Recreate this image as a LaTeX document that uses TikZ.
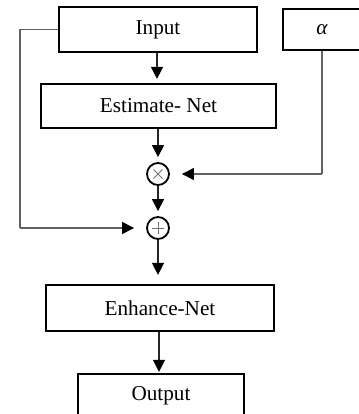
\documentclass[tikz,border=0pt]{standalone}
\usepackage{fontspec}
\setmainfont{Liberation Serif}
\usetikzlibrary{arrows.meta,calc}
\def\px{0.75pt}
\tikzset{
  blk/.style={draw=black, line width=2.2*\px, rectangle, inner sep=0pt,
    font=\fontsize{15.9}{19}\selectfont},
  opnode/.style={draw=black, line width=1.8*\px, circle, inner sep=0pt, minimum size=22*\px},
  arr/.style={draw=black!85, line width=1.1*\px, -{Triangle[length=12*\px, width=12*\px, color=black]}},
  side/.style={draw=black!62, line width=1.1*\px},
  sym/.style={draw=black!55, line width=0.9*\px}
}
\begin{document}
\begin{tikzpicture}[x=0.75pt, y=-0.75pt]
\useasboundingbox (0,0) rectangle (359,414);
\clip (0,0) rectangle (359,414);
\node[blk, minimum width=198*\px, minimum height=45*\px] (input) at (158,29.5) {Input};
\node[blk, line width=1.8*\px, minimum width=78*\px, minimum height=41*\px] (alpha) at (322,29.5) {\textit{α}};
\node[blk, minimum width=235*\px, minimum height=44*\px] (est) at (158.5,106) {Estimate- Net};
\node[opnode] (mul) at (158,174) {};
\node[opnode] (add) at (158,228) {};
\node[blk, minimum width=228*\px, minimum height=46*\px] (enh) at (160,308) {Enhance-Net};
\node[blk, minimum width=166*\px, minimum height=44*\px] (out) at (161,396) {Output};
\coordinate (fbtop) at (20,29.5);
\coordinate (fbbot) at (20,228);
% symbols
\draw[sym] ($(mul)+(-4.5,-4.5)$) -- ($(mul)+(4.5,4.5)$);
\draw[sym] ($(mul)+(-4.5,4.5)$) -- ($(mul)+(4.5,-4.5)$);
\draw[sym] ($(add)+(-6,0)$) -- ($(add)+(6,0)$);
\draw[sym] ($(add)+(0,-6)$) -- ($(add)+(0,6)$);
% connectors
\draw[arr, shorten >=4*\px] (input.south -| 157,0) -- (est.north -| 157,0);
\draw[arr, shorten >=5*\px] (est.south -| mul) -- (mul.north);
\draw[arr, shorten >=5*\px] (mul.south) -- (add.north);
\draw[arr, shorten >=9*\px] (add.south) -- (enh.north -| add);
\draw[arr, shorten >=1*\px] (enh.south -| 159,0) -- (out.north -| 159,0);
\draw[side] (alpha.south) -- (alpha.south |- mul);
\draw[arr, draw=black!62, shorten >=12*\px] (alpha.south |- mul) -- (mul.east);
\draw[side] (input.west) -- (fbtop) -- (fbbot);
\draw[arr, draw=black!62, shorten >=12*\px] (fbbot) -- (add.west);
\end{tikzpicture}
\end{document}
